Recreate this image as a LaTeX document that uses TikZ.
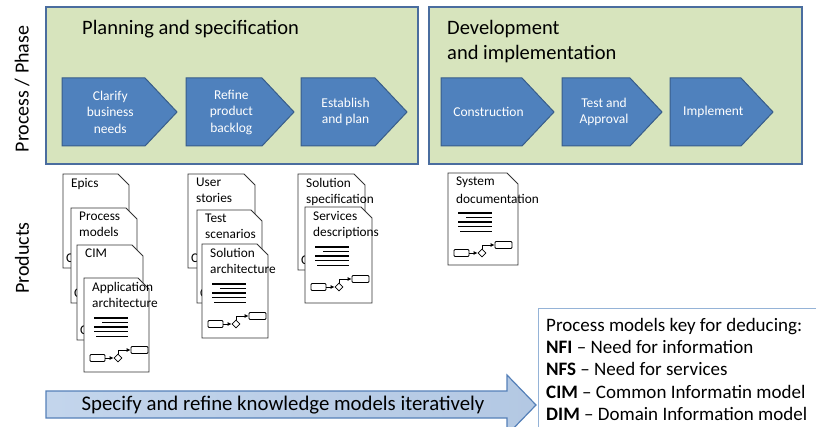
\documentclass[tikz,border=0pt]{standalone}
\usepackage{fontspec}
\setmainfont{Carlito}
\usetikzlibrary{arrows.meta,shapes.geometric}

\definecolor{panelfill}{HTML}{D7E4BD}
\definecolor{panelline}{HTML}{4A6D9F}
\definecolor{stepfill}{HTML}{4F81BD}
\definecolor{stepline}{HTML}{385D8A}
\definecolor{keyline}{HTML}{95B3D7}
\definecolor{bandA}{HTML}{C3D5EC}
\definecolor{bandB}{HTML}{E6EEF8}
\definecolor{bandC}{HTML}{B3C8E3}
\definecolor{bandline}{HTML}{5580B8}

\tikzset{
  panel/.style={draw=panelline, line width=2pt, fill=panelfill},
  paneltitle/.style={font=\fontsize{20.5}{25}\selectfont, inner sep=0pt, align=left},
  stepbox/.style={draw=stepline, line width=1pt, fill=stepfill},
  steptext/.style={text=white, font=\fontsize{13.5}{16.5}\selectfont, align=center, inner sep=0pt},
  sheet/.style={draw=black!80, line width=0.8pt, fill=white},
  sheettext/.style={font=\fontsize{13.3}{16}\selectfont, align=left, inner sep=0pt},
  minibox/.style={draw=black, line width=0.8pt, rounded corners=1pt, minimum width=15pt, minimum height=7pt, inner sep=0pt, fill=white},
  minidiamond/.style={draw=black, line width=0.8pt, diamond, minimum size=8pt, inner sep=0pt, fill=white},
  miniarrow/.style={line width=0.8pt, -{Latex[length=4pt,width=4pt]}},
  sidelabel/.style={rotate=90, font=\fontsize{20}{24}\selectfont, inner sep=0pt},
  keytext/.style={font=\fontsize{19}{22.3}\selectfont, align=left, inner sep=0pt},
}

% a process step: name, left, right, text
\newcommand\processstep[4]{%
  \draw[stepbox] (#2,78) -- (#3-32,78) -- (#3,112) -- (#3-32,146) -- (#2,146) -- cycle;
  \node[steptext] (#1) at ({#2+0.42*(#3-#2)},112) {#4};
}

% a product sheet with a cut corner: name, left, top, width, height, text
\newcommand\sheet[6]{%
  \draw[sheet] (#2,#3) -- ++(#4-11,0) -- ++(11,11) -- ++(0,#5-11) -- ++(-#4,0) -- cycle;
  \node[sheettext, anchor=north west] (#1) at (#2+8,#3+4) {#6};
}

% text of a sheet lying underneath, peeking out at its lower left
\newcommand\peek[4]{%
  \node[sheettext, anchor=west] (#1) at (#2+3,#3+#4-10) {C};
}

% lines of text and a small flow sketch inside a sheet: prefix, left, top
\newcommand\sheetbody[3]{%
  \draw[line width=1.6pt] (#2+10,#3+40) -- (#2+44,#3+40);
  \draw[line width=1.6pt] (#2+18,#3+44.5) -- (#2+44,#3+44.5);
  \draw[line width=1.6pt] (#2+10,#3+49) -- (#2+44,#3+49);
  \draw[line width=1.6pt] (#2+10,#3+53.5) -- (#2+44,#3+53.5);
  \draw[line width=0.9pt] (#2+12,#3+58) -- (#2+44,#3+58);
  \node[minibox] (#1a) at (#2+13.5,#3+80) {};
  \node[minidiamond] (#1d) at (#2+34,#3+80) {};
  \node[minibox, minimum width=17pt] (#1b) at (#2+55.5,#3+72) {};
  \draw[miniarrow] (#1a) -- (#1d);
  \draw[miniarrow] (#1d.north) |- (#1b.west);
}

\begin{document}
\begin{tikzpicture}[x=1pt, y=-1pt]
  \useasboundingbox (0,0) rectangle (816,427);
  \clip (0,0) rectangle (816,427);

  % side labels
  \node[sidelabel] (lblphase) at (22,89) {Process / Phase};
  \node[sidelabel] (lblproducts) at (22,258) {Products};

  % phase panels
  \draw[panel] (46,7) rectangle (418,164);
  \draw[panel] (429,7) rectangle (802,164);
  \node[paneltitle, anchor=base west] (titleplan) at (82,35) {Planning and specification};
  \node[paneltitle, anchor=base west] (titledev) at (447,35) {Development};
  \node[paneltitle, anchor=base west] (titledevb) at (447,60) {and implementation};

  % process steps
  \processstep{clarify}{62}{177}{Clarify\\business\\needs}
  \processstep{refine}{186}{294}{Refine\\product\\backlog}
  \processstep{establish}{301}{407}{Establish\\and plan}
  \processstep{construct}{441}{554}{Construction}
  \processstep{approve}{562}{662}{Test and\\Approval}
  \processstep{implement}{670}{773}{Implement}

  % products of clarifying business needs
  \sheet{epics}{63}{174}{66}{94}{Epics}
  \peek{epicsc}{63}{174}{94}
  \sheet{procmodels}{71}{208}{66}{95}{Process\\models}
  \peek{procmodelsc}{71}{208}{95}
  \sheet{cim}{77}{245}{66}{95}{CIM}
  \peek{cimc}{77}{245}{95}
  \sheet{apparch}{84}{278}{65}{94}{Application\\architecture}
  \sheetbody{aa}{84}{278}

  % products of refining the backlog
  \sheet{userstories}{188}{174}{67}{94}{User\\stories}
  \peek{userstoriesc}{188}{174}{94}
  \sheet{testscen}{197}{210}{65}{93}{Test\\scenarios}
  \peek{testscenc}{197}{210}{93}
  \sheet{solarch}{202}{244}{66}{94}{Solution\\architecture}
  \sheetbody{sa}{202}{244}

  % products of establishing the plan
  \sheet{solspec}{298}{174}{67}{96}{Solution\\specification}
  \peek{solspecc}{298}{174}{96}
  \sheet{services}{305}{207}{67}{96}{Services\\descriptions}
  \sheetbody{sd}{305}{207}

  % products of construction
  \sheet{sysdoc}{448}{173}{70}{92}{System\\[2pt]documentation}
  \sheetbody{sy}{448}{173}

  % iteration band
  \draw[draw=bandline, line width=1.2pt, left color=bandA, middle color=bandB, right color=bandC]
    (46,391) -- (507,391) -- (507,375) -- (536,405) -- (507,435) -- (507,418) -- (46,418) -- cycle;
  \node[keytext, font=\fontsize{20.8}{24}\selectfont] (iterate) at (283,405) {Specify and refine knowledge models iteratively};

  % key
  \draw[draw=keyline, line width=1pt, fill=white] (538,309) rectangle (820,432);
  \node[keytext, anchor=north west] (key) at (546,318) {Process models key for deducing:\\
    \textbf{NFI} -- Need for information\\
    \textbf{NFS} -- Need for services\\
    \textbf{CIM} -- Common Informatin model\\
    \textbf{DIM} -- Domain Information model};
\end{tikzpicture}
\end{document}
